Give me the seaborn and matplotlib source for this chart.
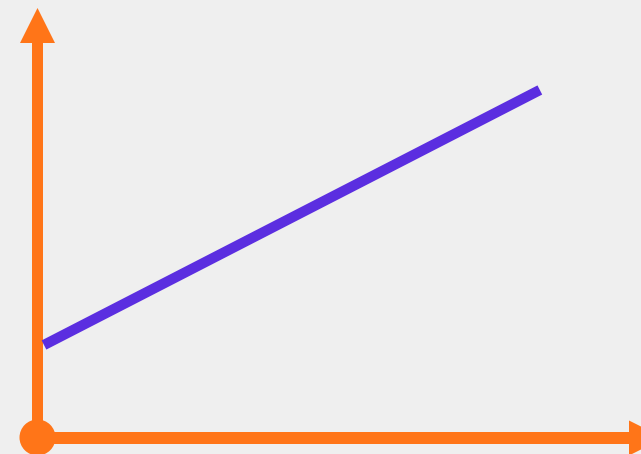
import seaborn as sns
import matplotlib.pyplot as plt
import matplotlib.transforms as mtransforms
from matplotlib.patches import Polygon, Circle, Rectangle

# line data (two end points)
line_x = [0.0, 10.0]
line_y = [2.0, 7.2]

bg = "#efefef"
orange = "#ff7518"
purple = "#5b2ee0"

sns.set_theme(style="white")

fig = plt.figure(figsize=(6.41, 4.54), dpi=100, facecolor=bg)
ax = fig.add_axes([0, 0, 1, 1])
ax.set_facecolor(bg)

sns.lineplot(x=line_x, y=line_y, ax=ax, color=purple, linewidth=7.4,
             solid_capstyle="butt")
ax.set_xlim(-0.887, 12.04)
ax.set_ylim(-0.223, 9.035)
ax.set_axis_off()

# image-pixel transform (y downwards) for the decorative axes
px = mtransforms.Affine2D().scale(1 / 641, -1 / 454).translate(0, 1) + ax.transAxes

ox, oy = 37.5, 437.5
# y axis shaft + head
ax.add_patch(Rectangle((ox - 5.8, 40), 11.6, oy - 40, transform=px,
                       color=orange, lw=0, zorder=1))
ax.add_patch(Polygon([(ox, 8), (ox - 17.5, 43), (ox + 17.5, 43)], transform=px,
                     color=orange, lw=0, zorder=1))
# x axis shaft + head
ax.add_patch(Rectangle((ox, 432), 632 - ox, 12, transform=px,
                       color=orange, lw=0, zorder=1))
ax.add_patch(Polygon([(629, 420.5), (629, 455.5), (664, 438)], transform=px,
                     color=orange, lw=0, zorder=1))
# origin dot
ax.add_patch(Circle((ox, oy), 18, transform=px, color=orange, lw=0, zorder=1))

fig.savefig("out.png", dpi=100, facecolor=bg)
